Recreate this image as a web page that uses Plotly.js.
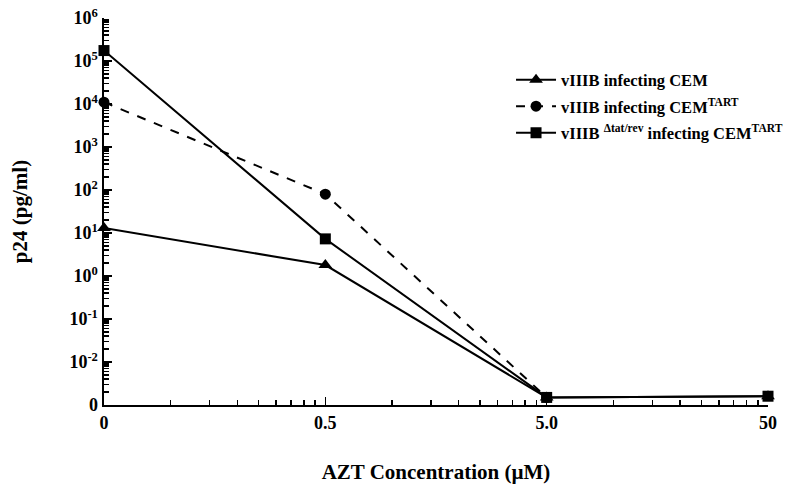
<!DOCTYPE html>
<html>
<head>
<meta charset="utf-8">
<script src="https://cdn.plot.ly/plotly-3.0.1.min.js"></script>
<style>html,body{margin:0;padding:0;background:#fff;}#chart{width:785px;height:484px;}</style>
</head>
<body>
<div id="chart"></div>
<script>
// AZT concentrations (µM); "0" is drawn at the 0.05 log position
const xValues = [0.05, 0.5, 5, 50];
const xTickText = ["0", "0.5", "5.0", "50"];

const cemName = "vIIIB infecting CEM";
const cemValues = [13, 1.8, 0.0015, 0.0016];

const tartName = "vIIIB infecting CEM<sup>TART</sup>";
const tartValues = [11000, 80, 0.0015];

const deltaName = "vIIIB <sup>Δtat/rev</sup> infecting CEM<sup>TART</sup>";
const deltaValues = [175000, 7.3, 0.0015, 0.0016];

const yTickVals = [1e-3, 1e-2, 1e-1, 1, 10, 100, 1000, 1e4, 1e5, 1e6];
const yTickText = ["0", "10<sup>-2</sup>", "10<sup>-1</sup>", "10<sup>0</sup>", "10<sup>1</sup>",
  "10<sup>2</sup>", "10<sup>3</sup>", "10<sup>4</sup>", "10<sup>5</sup>", "10<sup>6</sup>"];

// minor tick positions: 2..9 times each decade start
function minorTicks(starts) {
  const out = [];
  starts.forEach(function (s) { for (let k = 2; k <= 9; k++) out.push(s * k); });
  return out;
}
const xMinor = minorTicks(xValues.slice(0, 3));
const yMinor = minorTicks(yTickVals.slice(0, 9));

const font = "Liberation Serif";

const traces = [
  {x: xValues, y: cemValues, name: cemName, mode: "lines+markers", legendgroup: "a",
   line: {color: "#000", width: 2, dash: "solid"},
   marker: {symbol: "triangle-up", size: 12, color: "#000"}, cliponaxis: false},
  {x: xValues.slice(0, tartValues.length), y: tartValues, name: tartName, mode: "lines+markers", legendgroup: "b",
   line: {color: "#000", width: 2, dash: "dash"},
   marker: {symbol: "circle", size: 11, color: "#000"}, cliponaxis: false},
  {x: xValues, y: deltaValues, name: deltaName, mode: "lines+markers", legendgroup: "c",
   line: {color: "#000", width: 2, dash: "solid"},
   marker: {symbol: "square", size: 11, color: "#000"}, cliponaxis: false}
];

const layout = {
  width: 785, height: 484,
  margin: {l: 104, r: 17, t: 18, b: 79, autoexpand: false},
  paper_bgcolor: "#fff", plot_bgcolor: "#fff",
  font: {family: font, color: "#000", size: 17},
  showlegend: true,
  legend: {x: 0.613, y: 0.885, xanchor: "left", yanchor: "top",
    font: {family: font, size: 16.5, color: "#000", weight: "bold"},
    bgcolor: "rgba(0,0,0,0)", itemwidth: 40, tracegroupgap: 2},
  xaxis: {
    type: "log", range: [Math.log10(0.05), Math.log10(50)],
    tickmode: "array", tickvals: xValues, ticktext: xTickText,
    ticks: "inside", ticklen: 8, tickwidth: 1.5, tickcolor: "#000",
    showline: true, linecolor: "#000", linewidth: 2,
    showgrid: false, zeroline: false,
    tickfont: {family: font, size: 18, color: "#000", weight: "bold"},
    minor: {tickmode: "array", tickvals: xMinor, ticks: "inside", ticklen: 5, tickcolor: "#000", tickwidth: 1.5, showgrid: false},
    title: {text: "AZT Concentration (µM)", font: {family: font, size: 21, color: "#000", weight: "bold"}, standoff: 34},
    automargin: false
  },
  yaxis: {
    type: "log", range: [-3, 6],
    tickmode: "array", tickvals: yTickVals, ticktext: yTickText,
    ticks: "inside", ticklen: 8, tickwidth: 1.5, tickcolor: "#000",
    showline: true, linecolor: "#000", linewidth: 2.5,
    showgrid: false, zeroline: false,
    tickfont: {family: font, size: 18, color: "#000", weight: "bold"},
    minor: {tickmode: "array", tickvals: yMinor, ticks: "inside", ticklen: 5, tickcolor: "#000", tickwidth: 1.5, showgrid: false},
    title: {text: "p24 (pg/ml)", font: {family: font, size: 21, color: "#000", weight: "bold"}, standoff: 36},
    automargin: false
  },
  yaxis2: {
    type: "log", range: [-3, 6], overlaying: "y", anchor: "x", side: "left",
    tickmode: "array", tickvals: yMinor, showticklabels: false,
    ticks: "inside", ticklen: 5, tickwidth: 1.5, tickcolor: "#000",
    showline: false, showgrid: false, zeroline: false, automargin: false
  }
};

Plotly.newPlot("chart", traces, layout, {displayModeBar: false, staticPlot: true});
</script>
</body>
</html>
